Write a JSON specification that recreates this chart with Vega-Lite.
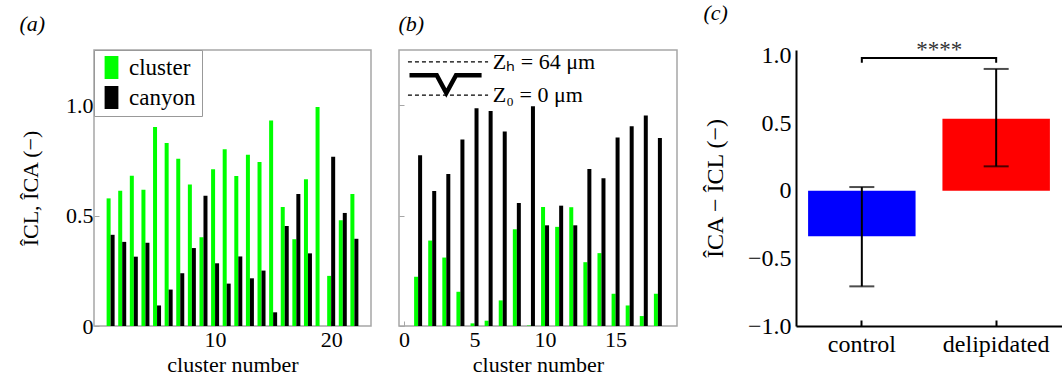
{
  "$schema": "https://vega.github.io/schema/vega-lite/v6.json",
  "padding": {"left": 18, "top": 2, "right": 0, "bottom": 0},
  "config": {
    "font": "'Liberation Serif', 'Times New Roman', serif",
    "view": {"stroke": "#a6a6a6", "strokeWidth": 1.5},
    "axis": {
      "labelFont": "'Liberation Serif', 'Times New Roman', serif", "labelColor": "black", "labelFontSize": 22,
      "titleFont": "'Liberation Serif', 'Times New Roman', serif", "titleColor": "black", "titleFontSize": 22, "titleFontWeight": "normal",
      "grid": false, "domain": false, "tickColor": "#a6a6a6", "tickSize": -5, "labelPadding": 8
    },
    "title": {"font": "'Liberation Serif', 'Times New Roman', serif", "fontSize": 22, "fontWeight": "normal", "fontStyle": "italic", "anchor": "start", "frame": "bounds", "offset": 14, "color": "black"}
  },
  "datasets": {
    "a": [
      {"n": 1, "cl": 0.578, "ca": 0.413}, {"n": 2, "cl": 0.613, "ca": 0.381}, {"n": 3, "cl": 0.68, "ca": 0.314},
      {"n": 4, "cl": 0.617, "ca": 0.377}, {"n": 5, "cl": 0.901, "ca": 0.093}, {"n": 6, "cl": 0.829, "ca": 0.165},
      {"n": 7, "cl": 0.757, "ca": 0.239}, {"n": 8, "cl": 0.641, "ca": 0.353}, {"n": 9, "cl": 0.402, "ca": 0.59},
      {"n": 10, "cl": 0.71, "ca": 0.284}, {"n": 11, "cl": 0.8, "ca": 0.192}, {"n": 12, "cl": 0.679, "ca": 0.315},
      {"n": 13, "cl": 0.776, "ca": 0.216}, {"n": 14, "cl": 0.743, "ca": 0.251}, {"n": 15, "cl": 0.931, "ca": 0.062},
      {"n": 16, "cl": 0.539, "ca": 0.453}, {"n": 17, "cl": 0.393, "ca": 0.598}, {"n": 18, "cl": 0.665, "ca": 0.329},
      {"n": 19, "cl": 0.992, "ca": 0.0}, {"n": 20, "cl": 0.227, "ca": 0.767}, {"n": 21, "cl": 0.479, "ca": 0.512},
      {"n": 22, "cl": 0.598, "ca": 0.395}
    ],
    "b": [
      {"n": 1, "cl": 0.223, "ca": 0.773}, {"n": 2, "cl": 0.387, "ca": 0.611}, {"n": 3, "cl": 0.31, "ca": 0.688},
      {"n": 4, "cl": 0.155, "ca": 0.845}, {"n": 5, "cl": 0.012, "ca": 0.986}, {"n": 6, "cl": 0.024, "ca": 0.974},
      {"n": 7, "cl": 0.116, "ca": 0.881}, {"n": 8, "cl": 0.438, "ca": 0.557}, {"n": 9, "cl": 0.002, "ca": 0.995},
      {"n": 10, "cl": 0.539, "ca": 0.456}, {"n": 11, "cl": 0.449, "ca": 0.545}, {"n": 12, "cl": 0.538, "ca": 0.456},
      {"n": 13, "cl": 0.289, "ca": 0.711}, {"n": 14, "cl": 0.33, "ca": 0.669}, {"n": 15, "cl": 0.146, "ca": 0.854},
      {"n": 16, "cl": 0.093, "ca": 0.905}, {"n": 17, "cl": 0.045, "ca": 0.953}, {"n": 18, "cl": 0.146, "ca": 0.852}
    ],
    "dash": [
      {"x": 0.28, "y": 1.196, "part": "top"}, {"x": 5.96, "y": 1.196, "part": "top"},
      {"x": 0.28, "y": 1.046, "part": "bottom"}, {"x": 5.96, "y": 1.046, "part": "bottom"}
    ],
    "profile": [
      {"x": 0.39, "y": 1.136}, {"x": 2.32, "y": 1.136}, {"x": 3.0, "y": 1.055}, {"x": 3.69, "y": 1.136}, {"x": 5.5, "y": 1.136}
    ],
    "labels": [
      {"x": 6.3, "y": 1.196, "t": "Zₕ = 64 μm"},
      {"x": 6.3, "y": 1.046, "t": "Z₀ = 0 μm"}
    ],
    "c": [
      {"group": "control", "mean": -0.337, "lo": -0.707, "hi": 0.027},
      {"group": "delipidated", "mean": 0.532, "lo": 0.18, "hi": 0.9}
    ],
    "bracket": [
      {"group": "control", "y": 0.945, "o": 1}, {"group": "control", "y": 0.98, "o": 2},
      {"group": "delipidated", "y": 0.98, "o": 3}, {"group": "delipidated", "y": 0.945, "o": 4}
    ],
    "stars": [{"group": "control", "y": 0.985, "t": "****"}]
  },
  "resolve": {"scale": {"color": "independent"}, "legend": {"color": "independent"}},
  "spacing": 25,
  "hconcat": [
    {
      "width": 277, "height": 276,
      "title": {"text": "(a)"},
      "data": {"name": "a"},
      "encoding": {
        "x": {"field": "n", "type": "quantitative", "scale": {"domain": [0, 23], "nice": false},
              "axis": {"values": [10, 20], "title": "cluster number", "titlePadding": 4}},
        "y": {"type": "quantitative", "scale": {"domain": [0, 1.25], "nice": false},
              "axis": {"values": [0, 0.5, 1], "labelExpr": "datum.value == 0 ? '0' : format(datum.value, '.1f')", "title": "ÎCL, ÎCA (−)", "titlePadding": 23, "labelPadding": 6}}
      },
      "layer": [
        {
          "mark": {"type": "bar", "orient": "vertical", "size": 4, "xOffset": -2},
          "encoding": {
            "y": {"field": "cl", "type": "quantitative"},
            "color": {"datum": "cluster", "type": "nominal",
              "scale": {"domain": ["cluster", "canyon"], "range": ["#00ff00", "#000000"]},
              "legend": {"orient": "top-left", "offset": 0, "title": null, "strokeColor": "#999999", "fillColor": "white",
                "padding": 6, "symbolType": "M-0.6,-1H0.6V1H-0.6Z", "symbolSize": 529, "symbolStrokeWidth": 0,
                "labelFontSize": 23, "labelFont": "'Liberation Serif', 'Times New Roman', serif", "labelColor": "black", "labelOffset": 6, "rowPadding": 6}}
          }
        },
        {
          "mark": {"type": "bar", "orient": "vertical", "size": 4, "xOffset": 2},
          "encoding": {
            "y": {"field": "ca", "type": "quantitative"},
            "color": {"datum": "canyon", "type": "nominal"}
          }
        }
      ]
    },
    {
      "width": 278, "height": 276,
      "title": {"text": "(b)"},
      "encoding": {
        "x": {"type": "quantitative", "scale": {"domain": [0, 19], "nice": false},
              "axis": {"values": [0, 5, 10, 15], "title": "cluster number", "titlePadding": 4}},
        "y": {"type": "quantitative", "scale": {"domain": [0, 1.25], "nice": false},
              "axis": {"values": [0, 0.5, 1], "labels": false, "title": null}}
      },
      "layer": [
        {
          "data": {"name": "b"},
          "mark": {"type": "bar", "orient": "vertical", "size": 4, "xOffset": -2, "color": "#00ff00"},
          "encoding": {"x": {"field": "n"}, "y": {"field": "cl"}}
        },
        {
          "data": {"name": "b"},
          "mark": {"type": "bar", "orient": "vertical", "size": 4, "xOffset": 2, "color": "#000000"},
          "encoding": {"x": {"field": "n"}, "y": {"field": "ca"}}
        },
        {
          "data": {"name": "dash"},
          "mark": {"type": "line", "color": "black", "strokeWidth": 1.2, "strokeDash": [4, 3]},
          "encoding": {"x": {"field": "x"}, "y": {"field": "y"}, "detail": {"field": "part", "type": "nominal"}}
        },
        {
          "data": {"name": "profile"},
          "mark": {"type": "line", "color": "black", "strokeWidth": 4.5},
          "encoding": {"x": {"field": "x"}, "y": {"field": "y"}}
        },
        {
          "data": {"name": "labels"},
          "mark": {"type": "text", "align": "left", "baseline": "middle", "fontSize": 22, "font": "'Liberation Serif', 'Times New Roman', serif", "color": "black"},
          "encoding": {"x": {"field": "x"}, "y": {"field": "y"}, "text": {"field": "t"}}
        }
      ]
    },
    {
      "width": 266, "height": 276,
      "view": {"stroke": null},
      "title": {"text": "(c)"},
      "encoding": {
        "x": {"field": "group", "type": "nominal", "sort": ["control", "delipidated"],
              "scale": {"paddingInner": 0.2, "paddingOuter": 0.09},
              "axis": {"title": null, "labelAngle": 0, "domain": true, "domainColor": "black", "domainWidth": 2,
                       "tickColor": "black", "tickWidth": 2, "tickSize": -6, "labelFontSize": 24, "labelPadding": 12}},
        "y": {"type": "quantitative", "scale": {"domain": [-1, 1.04], "nice": false},
              "axis": {"values": [-1, -0.5, 0, 0.5, 1], "labelExpr": "datum.value == 0 ? '0' : format(datum.value, '.1f')",
                       "domain": true, "domainColor": "black", "domainWidth": 2, "ticks": false, "labelPadding": 5,
                       "labelFontSize": 24, "title": "ÎCA − ÎCL (−)", "titleFontSize": 24, "titlePadding": 20}}
      },
      "layer": [
        {
          "data": {"name": "c"},
          "mark": {"type": "bar"},
          "encoding": {
            "y": {"field": "mean"},
            "color": {"field": "group", "type": "nominal", "scale": {"domain": ["control", "delipidated"], "range": ["#0000ff", "#ff0000"]}, "legend": null}
          }
        },
        {
          "data": {"name": "c"},
          "mark": {"type": "rule", "color": "black", "strokeWidth": 2},
          "encoding": {"y": {"datum": 0}}
        },
        {
          "data": {"name": "c"},
          "mark": {"type": "rule", "color": "black", "strokeWidth": 2},
          "encoding": {"y": {"field": "lo"}, "y2": {"field": "hi"}}
        },
        {
          "data": {"name": "c"},
          "mark": {"type": "tick", "color": "black", "thickness": 2, "size": 25},
          "encoding": {"y": {"field": "lo"}}
        },
        {
          "data": {"name": "c"},
          "mark": {"type": "tick", "color": "black", "thickness": 2, "size": 25},
          "encoding": {"y": {"field": "hi"}}
        },
        {
          "data": {"name": "bracket"},
          "mark": {"type": "line", "color": "black", "strokeWidth": 2},
          "encoding": {"y": {"field": "y"}, "order": {"field": "o", "type": "quantitative"}}
        },
        {
          "data": {"name": "stars"},
          "mark": {"type": "text", "align": "center", "baseline": "alphabetic", "fontSize": 23, "font": "'Liberation Serif', 'Times New Roman', serif", "color": "#333333"},
          "encoding": {"x": {"field": "group", "type": "nominal", "bandPosition": 1.22}, "y": {"field": "y"}, "text": {"field": "t"}}
        }
      ]
    }
  ]
}
